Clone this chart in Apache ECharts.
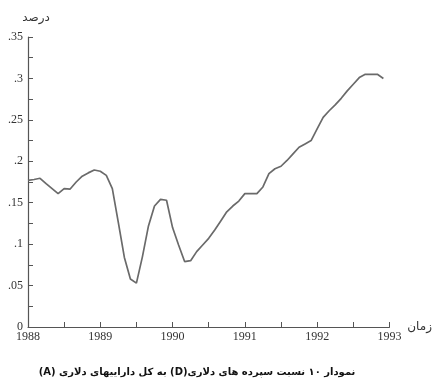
<!DOCTYPE html>
<html>
<head>
<meta charset="utf-8">
<script src="https://cdn.jsdelivr.net/npm/echarts@6/dist/echarts.min.js"></script>
<style>
html,body{margin:0;padding:0;background:#fff;}
#c{width:435px;height:381px;}
</style>
</head>
<body>
<div id="c"></div>
<script>
// Monthly observations, Jan 1988 .. Dec 1992
const startYear = 1988;
const ratioValues = [
  0.177, 0.178, 0.1795, 0.173, 0.167, 0.161, 0.167, 0.1665, 0.175, 0.182, 0.186, 0.1895,
  0.188, 0.183, 0.167, 0.126, 0.084, 0.058, 0.053, 0.085, 0.122, 0.146, 0.154, 0.153,
  0.120, 0.099, 0.079, 0.080, 0.091, 0.099, 0.107, 0.117, 0.128, 0.139, 0.146, 0.152,
  0.161, 0.161, 0.161, 0.169, 0.185, 0.191, 0.194, 0.201, 0.209, 0.217, 0.221, 0.225,
  0.239, 0.253, 0.261, 0.268, 0.276, 0.285, 0.293, 0.301, 0.305, 0.305, 0.305, 0.300
];
const yearTicks = [1988, 1989, 1990, 1991, 1992, 1993];
const yTickLabels = {'0': '0', '0.05': '.05', '0.1': '.1', '0.15': '.15', '0.2': '.2', '0.25': '.25', '0.3': '.3', '0.35': '.35'};
const yAxisName = 'درصد';
const xAxisName = 'زمان';
const caption = 'نمودار ۱۰ نسبت سپرده های دلاری(D) به کل داراییهای دلاری (A)';

const seriesData = ratioValues.map((v, i) => [startYear + i / 12, v]);

const chart = echarts.init(document.getElementById('c'), null, {renderer: 'canvas'});
const axisColor = '#555';
chart.setOption({
  backgroundColor: '#fff',
  animation: false,
  title: {
    text: '\u202B' + caption + '\u202C',
    left: 192, top: 362,
    textAlign: 'center',
    textStyle: {fontFamily: 'DejaVu Sans', fontWeight: 'bold', fontSize: 10, color: '#111'}
  },
  grid: {left: 28, right: 42, top: 37, bottom: 54, containLabel: false},
  xAxis: {
    type: 'value', min: 1988, max: 1993, interval: 1,
    name: xAxisName, nameLocation: 'end', nameGap: 6,
    nameTextStyle: {fontFamily: 'DejaVu Sans', fontSize: 12, color: '#333', verticalAlign: 'middle', padding: [0,0,4,0]},
    axisLine: {show: true, lineStyle: {color: axisColor, width: 1.2}},
    axisTick: {show: true, inside: true, length: 5, lineStyle: {color: axisColor}},
    minorTick: {show: true, splitNumber: 2, length: 5, lineStyle: {color: axisColor}},
    splitLine: {show: false},
    axisLabel: {
      margin: 4,
      fontFamily: 'Liberation Serif', fontSize: 12, color: '#333',
      formatter: v => yearTicks.includes(Math.round(v)) ? String(Math.round(v)) : ''
    }
  },
  yAxis: {
    type: 'value', min: 0, max: 0.35, interval: 0.05,
    name: yAxisName, nameLocation: 'end', nameGap: 13,
    nameTextStyle: {fontFamily: 'DejaVu Sans', fontSize: 12, color: '#333', align: 'center', padding: [0,0,0,16]},
    axisLine: {show: true, lineStyle: {color: axisColor, width: 1.2}},
    axisTick: {show: true, inside: true, length: 5, lineStyle: {color: axisColor}},
    minorTick: {show: true, splitNumber: 2, length: 5, lineStyle: {color: axisColor}},
    splitLine: {show: false},
    axisLabel: {
      margin: 5,
      fontFamily: 'Liberation Serif', fontSize: 12, color: '#333',
      formatter: v => yTickLabels[String(+v.toFixed(2))] || ''
    }
  },
  series: [{
    type: 'line',
    data: seriesData,
    showSymbol: false,
    symbol: 'none',
    smooth: false,
    lineStyle: {color: '#6a6a6a', width: 1.7}
  }]
});
</script>
</body>
</html>
